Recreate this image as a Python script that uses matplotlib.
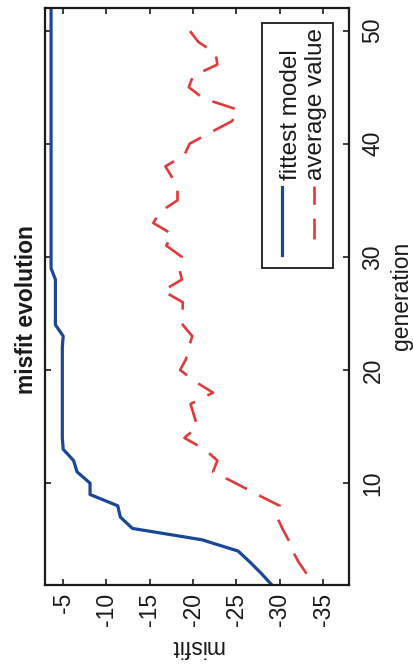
import numpy as np
import matplotlib
matplotlib.use("Agg")
import matplotlib.pyplot as plt
from matplotlib.patches import Rectangle
from matplotlib.lines import Line2D

# ---- data -----------------------------------------------------------------
generation_fit = list(range(1, 53))
fittest_model = [
    -29.1, -27.9, -26.6, -25.2, -21.0, -13.0, -11.6, -11.3, -8.1, -8.1,
    -6.6, -6.2, -5.0, -4.9, -4.9, -4.9, -4.9, -4.9, -4.9, -4.9,
    -4.9, -4.9, -5.0, -4.1, -4.1, -4.1, -4.1, -4.1, -3.6, -3.6,
    -3.6, -3.6, -3.6, -3.6, -3.6, -3.6, -3.6, -3.6, -3.6, -3.6,
    -3.6, -3.6, -3.6, -3.6, -3.6, -3.6, -3.6, -3.6, -3.6, -3.6,
    -3.6, -3.6,
]

generation_avg = list(range(2, 52))
average_value = [
    -33.1, -32.2, -31.5, -31.0, -30.3, -29.7, -30.0, -27.4, -24.9, -22.3,
    -22.8, -21.3, -19.0, -20.5, -20.1, -19.7, -22.3, -20.2, -18.5, -19.2,
    -19.5, -19.9, -18.8, -18.8, -18.8, -16.5, -18.7, -18.4, -18.7, -16.9,
    -17.6, -15.4, -16.2, -18.2, -18.2, -17.6, -16.8, -19.0, -19.6, -22.0,
    -24.5, -25.2, -21.2, -19.5, -20.0, -22.8, -22.6, -20.6, -19.6, -19.1,
]

misfit_ticks = [-5, -10, -15, -20, -25, -30, -35]
generation_ticks = [10, 20, 30, 40, 50]
series_labels = ["fittest model", "average value"]

# ---- style ----------------------------------------------------------------
plt.rcParams["font.family"] = ["Liberation Sans", "DejaVu Sans"]
plt.rcParams["lines.scale_dashes"] = False
FS = 16.5
FS_LEG = 17.5
INK = "#1a1a1a"
BLUE = "#1a4896"
RED = "#e03a3c"
DASH = (17, 10)

W, H = 413, 665
fig = plt.figure(figsize=(W / 100, H / 100), dpi=100)
fig.patch.set_facecolor("white")

# axes box in pixels: x 45..349, y 8..585 (from top)
ax = fig.add_axes([45 / W, (H - 585) / H, (349 - 45) / W, (585 - 8) / H])

# the plot is laid on its side: misfit runs across, generation runs upward
ax.plot(fittest_model, generation_fit, color=BLUE, lw=2.3,
        solid_joinstyle="round")
ax.plot(average_value, generation_avg, color=RED, lw=1.9, dashes=DASH)

ax.set_xlim(-2.9, -38.0)
ax.set_ylim(1, 52)

ax.set_xticks(misfit_ticks)
ax.set_xticklabels([str(v) for v in misfit_ticks])
ax.set_yticks(generation_ticks)
ax.set_yticklabels([str(v) for v in generation_ticks])

ax.tick_params(axis="both", direction="in", length=4, width=1.2,
               color=INK, labelcolor=INK, labelsize=FS)
ax.tick_params(axis="x", top=True, bottom=True, labelrotation=90, pad=5.5)
ax.tick_params(axis="y", left=True, right=True, labelleft=False,
               labelright=True, labelrotation=90, pad=9)
for lab in ax.get_yticklabels():
    lab.set_verticalalignment("center")
    lab.set_horizontalalignment("left")

for sp in ax.spines.values():
    sp.set_linewidth(1.6)
    sp.set_color(INK)

# legend drawn on its side as well
ax.add_patch(Rectangle((0.714, 0.549), 0.233, 0.425, transform=ax.transAxes,
                       facecolor="white", edgecolor=INK, lw=1.3, zorder=5))
ax.add_line(Line2D([0.781, 0.781], [0.572, 0.690], transform=ax.transAxes,
                   color=BLUE, lw=2.3, zorder=6))
ax.add_line(Line2D([0.885, 0.885], [0.600, 0.692], transform=ax.transAxes,
                   color=RED, lw=1.9, dashes=(15, 10), zorder=6))

def px(x, y):
    return x / W, 1 - y / H

fig.text(*px(297, 180), series_labels[0], rotation=90, rotation_mode="anchor",
         ha="left", va="baseline", fontsize=FS_LEG, color=INK, zorder=7)
fig.text(*px(322, 180), series_labels[1], rotation=90, rotation_mode="anchor",
         ha="left", va="baseline", fontsize=FS_LEG, color=INK, zorder=7)

# title and axis labels
fig.text(*px(33, 310), "misfit evolution", rotation=90, rotation_mode="anchor",
         ha="center", va="baseline", fontsize=FS, fontweight="bold", color=INK)
fig.text(*px(408, 296), "generation", rotation=90, rotation_mode="anchor",
         ha="center", va="baseline", fontsize=FS, color=INK)
fig.text(*px(197, 640), "misfit", rotation=180, rotation_mode="anchor",
         ha="center", va="baseline", fontsize=FS, color=INK)

fig.savefig("out.png", dpi=100, facecolor="white")
